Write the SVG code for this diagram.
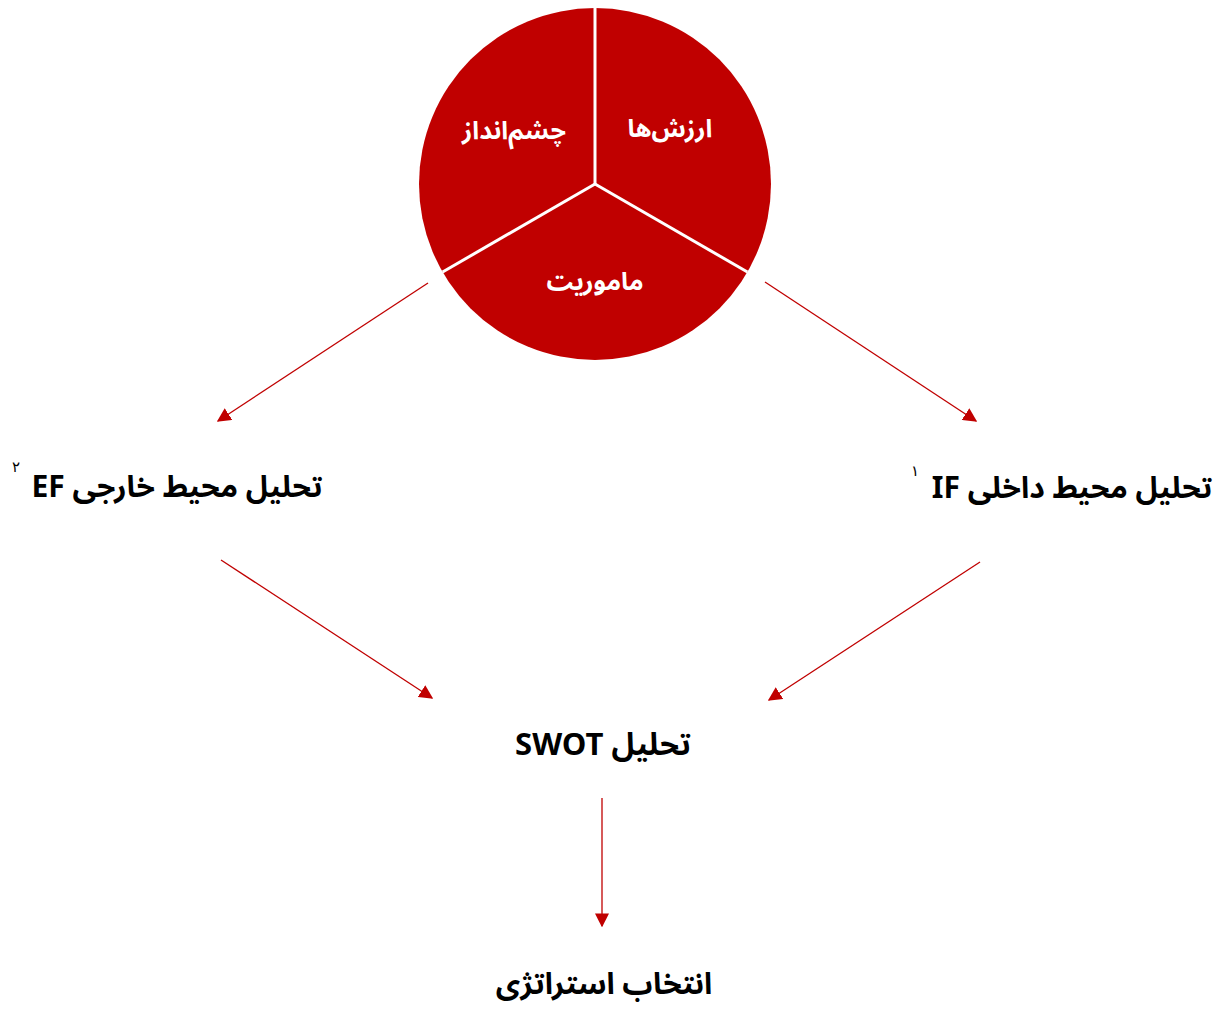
<svg xmlns="http://www.w3.org/2000/svg" width="1226" height="1011" viewBox="0 0 1226 1011">
<style>
.t{font-family:"Noto Sans Arabic","DejaVu Sans","Noto Sans",sans-serif;font-weight:bold;fill:#000;font-size:30px;text-anchor:middle;direction:rtl}
.w{font-family:"Noto Sans Arabic","DejaVu Sans","Noto Sans",sans-serif;font-weight:bold;fill:#fff;font-size:25px;text-anchor:middle;direction:rtl}
.s{font-family:"DejaVu Sans","Noto Sans",sans-serif;fill:#000;font-size:15px;text-anchor:middle}
.c{stroke:#C00000;stroke-width:1.3;fill:none;marker-end:url(#ah)}
</style>
<defs>
<marker id="ah" viewBox="0 0 10 10" refX="9" refY="5" markerWidth="14" markerHeight="14" markerUnits="userSpaceOnUse" orient="auto">
<path d="M0,0 L10,5 L0,10 z" fill="#C00000"/>
</marker>
</defs>
<rect width="1226" height="1011" fill="#fff"/>
<g id="circle">
<circle cx="595" cy="184" r="176" fill="#C00000"/>
<g stroke="#fff" stroke-width="3">
<line x1="595" y1="184" x2="595" y2="8"/>
<line x1="595" y1="184" x2="442.6" y2="272"/>
<line x1="595" y1="184" x2="747.4" y2="272"/>
</g>
<text class="w" x="670" y="137">ارزش‌ها</text>
<text class="w" x="514" y="139">چشم‌انداز</text>
<text class="w" x="595" y="290">ماموریت</text>
</g>
<g id="connectors">
<line class="c" x1="428" y1="283" x2="218" y2="421"/>
<line class="c" x1="765" y1="282" x2="976" y2="421"/>
<line class="c" x1="221" y1="560" x2="432" y2="698"/>
<line class="c" x1="980" y1="562" x2="769" y2="700"/>
<line class="c" x1="602" y1="798" x2="602" y2="926"/>
</g>
<g id="ef">
<text class="t" x="177" y="497">تحلیل محیط خارجی EF</text>
<text class="s" x="16" y="472">۲</text>
</g>
<g id="if">
<text class="t" x="1072" y="498">تحلیل محیط داخلی IF</text>
<text class="s" x="915" y="476">۱</text>
</g>
<g id="swot">
<text class="t" x="603" y="755" style="font-size:31px">تحلیل SWOT</text>
</g>
<g id="strategy">
<text class="t" x="604" y="994">انتخاب استراتژی</text>
</g>
</svg>
